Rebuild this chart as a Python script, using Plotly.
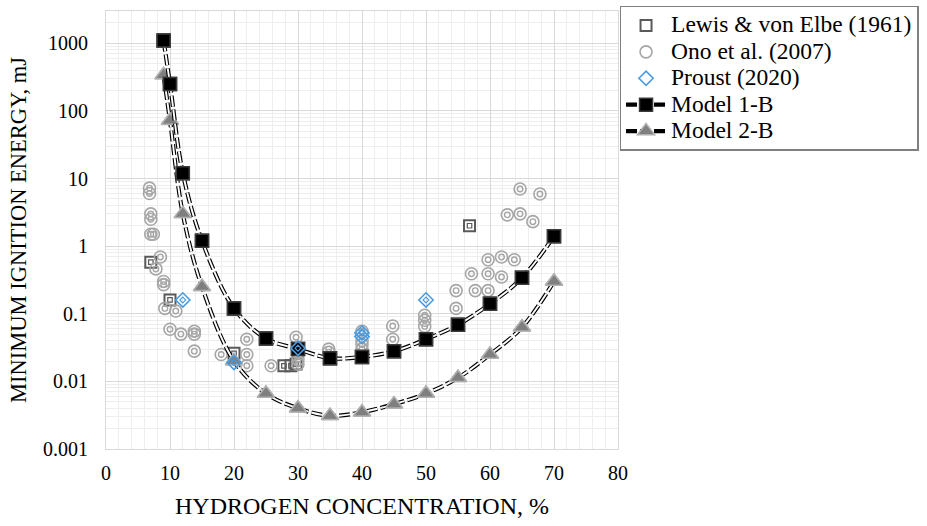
import plotly.graph_objects as go

# ---------------- data ----------------
conc_model = [9, 10, 12, 15, 20, 25, 30, 35, 40, 45, 50, 55, 60, 65, 70]
mie_model1 = [1100, 250, 12, 1.2, 0.12, 0.043, 0.030, 0.022, 0.023, 0.028, 0.042, 0.069, 0.14, 0.34, 1.4]
mie_model2 = [340, 72, 3.0, 0.25, 0.020, 0.0066, 0.0040, 0.0031, 0.0035, 0.0046, 0.0066, 0.0113, 0.025, 0.063, 0.30]

lewis_x = [7, 10, 20, 27.8, 28.9, 29.7, 56.8]
lewis_y = [0.58, 0.16, 0.026, 0.017, 0.017, 0.018, 2.0]

ono_x = [6.8, 6.8, 7, 7, 7, 7.4, 8.5, 7.8, 9, 9, 9.2, 10.9, 10, 11.7, 13.8, 13.8, 13.8,
         18, 22, 22, 22, 25.8, 29.7, 30, 30, 34.8, 34.8, 40, 40, 40, 40, 44.8, 44.8,
         49.8, 49.8, 49.8, 54.7, 54.7, 57.1, 57.7, 59.7, 59.7, 59.7, 61.8, 61.8, 63.8,
         62.7, 64.7, 64.7, 66.7, 67.8]
ono_y = [7.2, 6.0, 3.0, 2.5, 1.5, 1.5, 0.69, 0.46, 0.30, 0.27, 0.12, 0.11, 0.059, 0.05, 0.055, 0.05, 0.028,
         0.025, 0.042, 0.025, 0.017, 0.017, 0.045, 0.021, 0.018, 0.030, 0.027, 0.055, 0.040, 0.035, 0.030, 0.066, 0.042,
         0.095, 0.08, 0.065, 0.22, 0.12, 0.39, 0.22, 0.63, 0.39, 0.22, 0.69, 0.35, 0.63,
         2.9, 7.0, 3.0, 2.3, 5.9]

proust_x = [12, 20, 30, 40, 40, 50]
proust_y = [0.16, 0.019, 0.031, 0.052, 0.046, 0.16]

series_names = ["Lewis & von Elbe (1961)", "Ono et al. (2007)", "Proust (2020)", "Model 1-B", "Model 2-B"]

y_tickvals = [0.001, 0.01, 0.1, 1, 10, 100, 1000]
y_ticktext = ["0.001", "0.01", "0.1", "1", "10", "100", "1000"]
x_tickvals = [0, 10, 20, 30, 40, 50, 60, 70, 80]

FONT = "Liberation Serif"
DASH = "11px,3px"

y_minor = [k * 10.0 ** e for e in range(-3, 4) for k in range(2, 10)]


def lname(s):
    return '<span style="font-size:23.5px">' + s.replace("&", "&amp;") + "</span>"


fig = go.Figure()

# Lewis & von Elbe
fig.add_trace(go.Scatter(x=lewis_x, y=lewis_y, mode="markers", name=lname(series_names[0]),
                         legendrank=1,
                         marker=dict(symbol="square", size=11, color="rgba(255,255,255,0.6)",
                                     line=dict(color="#595959", width=2))))
fig.add_trace(go.Scatter(x=lewis_x, y=lewis_y, mode="markers", showlegend=False, hoverinfo="skip",
                         marker=dict(symbol="square-open", size=4.5, color="#595959",
                                     line=dict(color="#595959", width=1.2))))
# Ono
fig.add_trace(go.Scatter(x=ono_x, y=ono_y, mode="markers", name=lname(series_names[1]),
                         legendrank=2,
                         marker=dict(symbol="circle-open", size=12, color="#a6a6a6",
                                     line=dict(color="#a6a6a6", width=1.6))))
fig.add_trace(go.Scatter(x=ono_x, y=ono_y, mode="markers", showlegend=False, hoverinfo="skip",
                         marker=dict(symbol="circle-open", size=5.5, color="#a6a6a6",
                                     line=dict(color="#a6a6a6", width=1.4))))


def model_traces(name, yvals, rank, msym, msize, mcolor, mline):
    fig.add_trace(go.Scatter(x=conc_model, y=yvals, mode="lines+markers", name=lname(name), legendrank=rank,
                             line=dict(color="black", width=4.2, dash=DASH, shape="spline", smoothing=1),
                             marker=dict(symbol=msym, size=msize, color=mcolor,
                                         line=dict(color=mline, width=1.5))))
    fig.add_trace(go.Scatter(x=conc_model, y=yvals, mode="lines", showlegend=False, hoverinfo="skip",
                             line=dict(color="white", width=1.9, dash=DASH, shape="spline", smoothing=1)))
    fig.add_trace(go.Scatter(x=conc_model, y=yvals, mode="markers", showlegend=False, hoverinfo="skip",
                             marker=dict(symbol=msym, size=msize, color=mcolor,
                                         line=dict(color=mline, width=1.5))))


model_traces(series_names[4], mie_model2, 5, "triangle-up", 15, "#7f7f7f", "#b0b0b0")
model_traces(series_names[3], mie_model1, 4, "square", 13, "black", "#3a3a3a")

# Proust
fig.add_trace(go.Scatter(x=proust_x, y=proust_y, mode="markers", name=lname(series_names[2]),
                         legendrank=3,
                         marker=dict(symbol="diamond-open", size=11, color="#4a9be0",
                                     line=dict(color="#4a9be0", width=1.6))))
fig.add_trace(go.Scatter(x=proust_x, y=proust_y, mode="markers", showlegend=False, hoverinfo="skip",
                         marker=dict(symbol="diamond-open", size=4.5, color="#4a9be0",
                                     line=dict(color="#4a9be0", width=1.2))))

fig.update_layout(
    width=927, height=526,
    margin=dict(l=106, r=309, t=6, b=77),
    paper_bgcolor="white", plot_bgcolor="white",
    font=dict(family=FONT, size=20, color="black"),
    showlegend=True,
    legend=dict(x=1.003, y=1.012, xanchor="left", yanchor="top",
                bordercolor="#7f7f7f", borderwidth=1.5, bgcolor="white",
                font=dict(family=FONT, size=18, color="black"),
                itemwidth=40, tracegroupgap=0),
)

fig.update_xaxes(range=[0, 80], tickmode="array", tickvals=x_tickvals,
                 showgrid=True, gridcolor="#d9d9d9", gridwidth=1.2,
                 minor=dict(dtick=2, showgrid=True, gridcolor="#eeeeee", gridwidth=1),
                 showline=True, linecolor="#d9d9d9", mirror=True, zeroline=False,
                 ticks="", ticklabelstandoff=6, tickfont=dict(size=20),
                 title=dict(text="HYDROGEN CONCENTRATION, %", standoff=14,
                            font=dict(family=FONT, size=24)))

fig.update_yaxes(type="log", range=[-3, 3.477], tickmode="array",
                 tickvals=y_tickvals, ticktext=y_ticktext,
                 showgrid=True, gridcolor="#d9d9d9", gridwidth=1.2,
                 minor=dict(tickmode="array", tickvals=y_minor, showgrid=True,
                            gridcolor="#eeeeee", gridwidth=1),
                 showline=True, linecolor="#d9d9d9", mirror=True, zeroline=False,
                 ticks="", ticklabelstandoff=13, tickfont=dict(size=20),
                 title=dict(text="MINIMUM IGNITION ENERGY, mJ", standoff=10,
                            font=dict(family=FONT, size=22.5)))

fig.write_html("out.html")
